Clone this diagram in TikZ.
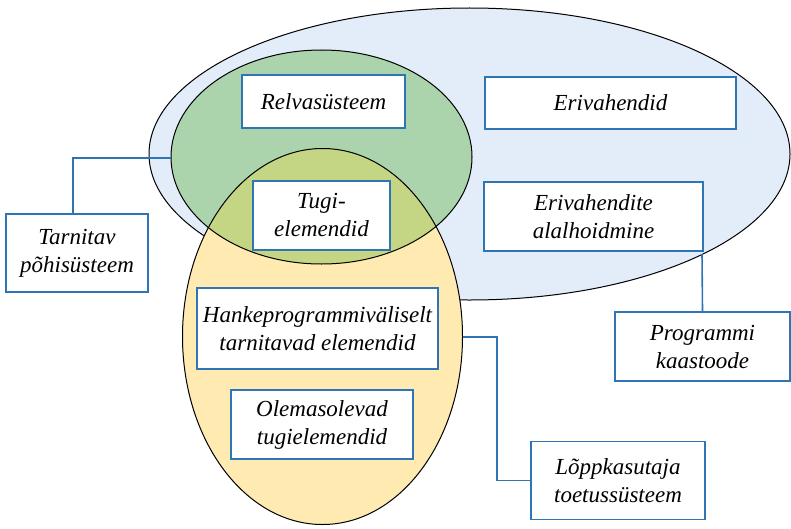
\documentclass[tikz,border=0pt]{standalone}
\usepackage{fontspec}
\setmainfont{Liberation Serif}

\definecolor{setblue}{RGB}{227,237,250}
\definecolor{setgreen}{RGB}{171,212,172}
\definecolor{setyellow}{RGB}{255,234,178}
\definecolor{setolive}{RGB}{196,213,132}
\definecolor{boxblue}{RGB}{46,117,182}

\tikzset{every picture/.style={line width=0.75pt}}
\tikzset{
  box/.style={draw=boxblue, line width=1.2pt, fill=white, inner sep=0pt, align=center,
    font=\fontsize{17.25}{21}\selectfont\itshape},
  link/.style={draw=boxblue, line width=1.2pt}
}

\begin{document}
\begin{tikzpicture}[x=0.75pt,y=0.75pt,yscale=-1,xscale=1]
\useasboundingbox (0,0) rectangle (791,528);

%Shape: Ellipse [outer set]
\draw [fill=setblue] (469.5,154) ellipse (320.5 and 146);
%Shape: Ellipse [green set]
\fill [setgreen] (321.5,157) ellipse (150.5 and 107);
%Shape: Ellipse [yellow set]
\fill [setyellow] (322.5,336.5) ellipse (140 and 188);
% overlap of green and yellow
\begin{scope}
  \clip (321.5,157) ellipse (150.5 and 107);
  \fill [setolive] (322.5,336.5) ellipse (140 and 188);
\end{scope}
\draw (321.5,157) ellipse (150.5 and 107);
\draw (322.5,336.5) ellipse (140 and 188);

% Text Node
\node [box, minimum width=122.25pt, minimum height=39.75pt] (relva) at (323.5,101.5) {Relvasüsteem};
% Text Node
\node [box, minimum width=102.75pt, minimum height=51.75pt] (tugi) at (321.5,215.5) {Tugi-\\elemendid};
% Text Node
\node [box, minimum width=188.25pt, minimum height=39pt] (eriv) at (610.5,103) {Erivahendid};
% Text Node
\node [box, minimum width=164.25pt, minimum height=51.75pt] (erivhoid) at (593.5,216.5) {Erivahendite\\alalhoidmine};
% Text Node
\node [box, minimum width=106.5pt, minimum height=58.5pt] (tarn) at (77,253) {Tarnitav\\põhisüsteem};
% Text Node
\node [box, minimum width=180.75pt, minimum height=60.75pt] (hanke) at (317.5,328.5) {Hankeprogrammiväliselt\\tarnitavad elemendid};
% Text Node
\node [box, minimum width=136.5pt, minimum height=51.75pt] (olemas) at (322,424.5) {Olemasolevad\\tugielemendid};
% Text Node
\node [box, minimum width=131.25pt, minimum height=51.75pt] (progr) at (702.5,346.5) {Programmi\\kaastoode};
% Text Node
\node [box, minimum width=130.5pt, minimum height=58.5pt] (lopp) at (618,480.5) {Lõppkasutaja\\toetussüsteem};

% connector ends on the sets
\coordinate (greenW) at (171,158);
\coordinate (blueS) at (702,254);
\coordinate (yellowE) at (462.5,337);
\coordinate (bend) at (497,337);

%Straight Lines
\draw [link] ([xshift=-3pt]tarn.north) |- (greenW);
%Straight Lines
\draw [link] (progr.north) -- (blueS);
%Straight Lines
\draw [link] (yellowE) -- (bend) |- (lopp.west);

\end{tikzpicture}
\end{document}
